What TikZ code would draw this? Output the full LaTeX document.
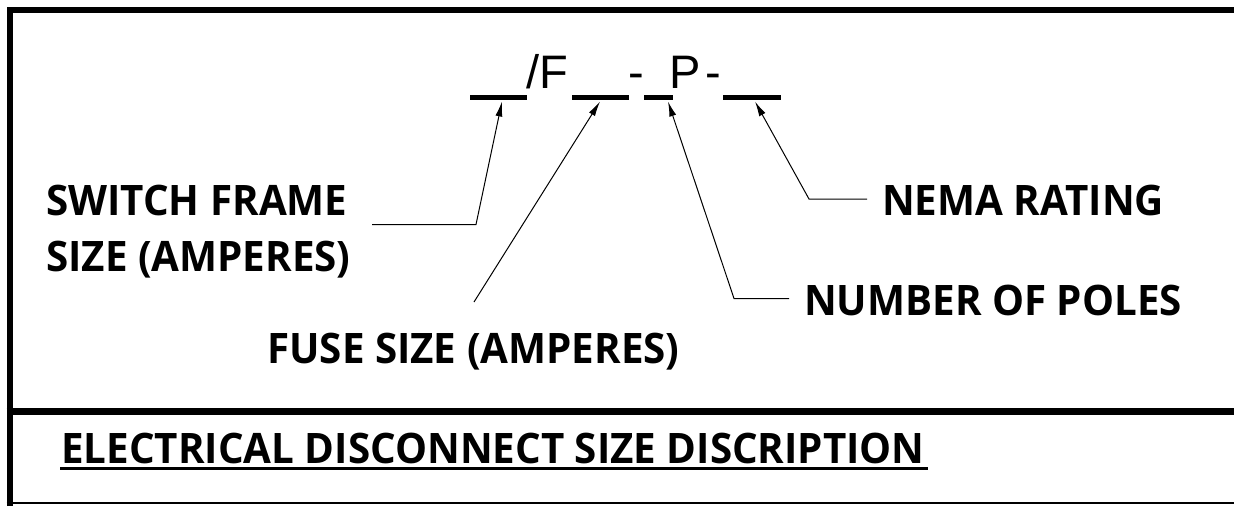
\documentclass[tikz,border=0pt]{standalone}
\usepackage{fontspec}
\setmainfont{Open Sans}
\newfontfamily\arialfont{Liberation Sans}
\usetikzlibrary{arrows.meta,calc}
\newcommand{\lbtxt}[1]{\scalebox{0.96}[1]{#1}}
\begin{document}
\begin{tikzpicture}[x=1pt,y=-1pt,
  lbl/.style={font=\bfseries\fontsize{42}{50}\selectfont, anchor=base west, inner sep=0},
  code/.style={font=\arialfont\fontsize{47}{54}\selectfont, anchor=base west, inner sep=0},
  blank/.style={fill=black, inner sep=0, minimum height=5, anchor=north west, draw=none},
  leader/.style={line width=1, -{Latex[length=15,width=7]}},
  frame/.style={line width=6, line cap=butt, line join=miter}
]
\useasboundingbox (0,0) rectangle (1234,506);
% frame
\draw[frame] (9.7,506) -- (9.7,9.7) -- (1234,9.7);
\draw[line width=7] (6.7,411.5) -- (1234,411.5);
\draw[line width=1.5] (6.7,503) -- (1234,503);
% code string
\node[blank, minimum width=57] (b1) at (470,95) {};
\node[blank, minimum width=57] (b2) at (572,95) {};
\node[blank, minimum width=29] (b3) at (644,95) {};
\node[blank, minimum width=58] (b4) at (723,95) {};
\node[code] (sf) at (526,88) {/F};
\node[code] (h1) at (628,88) {-};
\node[code] (pp) at (669.5,88) {P};
\node[code] (h2) at (705,88) {-};
% labels
\node[lbl] (sw1) at (46,215) {\lbtxt{SWITCH FRAME}};
\node[lbl] (sw2) at (46,271.7) {\lbtxt{SIZE (AMPERES)}};
\node[lbl] (fuse) at (267,363) {\lbtxt{FUSE SIZE (AMPERES)}};
\node[lbl] (nema) at (882,215) {\lbtxt{NEMA RATING}};
\node[lbl] (poles) at (804,315) {\lbtxt{NUMBER OF POLES}};
\node[lbl] (title) at (61,463) {\lbtxt{ELECTRICAL DISCONNECT SIZE DISCRIPTION}};
\draw[line width=3] ($(title.base west)+(-1,5.5)$) -- ($(title.base east)+(3,5.5)$);
% leader points
\coordinate (e1) at (372,224.5); \coordinate (k1) at (476,224.5); \coordinate (t1) at (502,101.5);
\coordinate (e2) at (474,302);   \coordinate (t2) at (600,101.5);
\coordinate (e3) at (789,298.5); \coordinate (k3) at (734,298.5); \coordinate (t3) at (668,101.5);
\coordinate (e4) at (867,199);   \coordinate (k4) at (809,199);   \coordinate (t4) at (755,101.5);
\draw[leader] (e1) -- (k1) -- (t1);
\draw[leader] (e2) -- (t2);
\draw[leader] (e3) -- (k3) -- (t3);
\draw[leader] (e4) -- (k4) -- (t4);
\end{tikzpicture}
\end{document}
